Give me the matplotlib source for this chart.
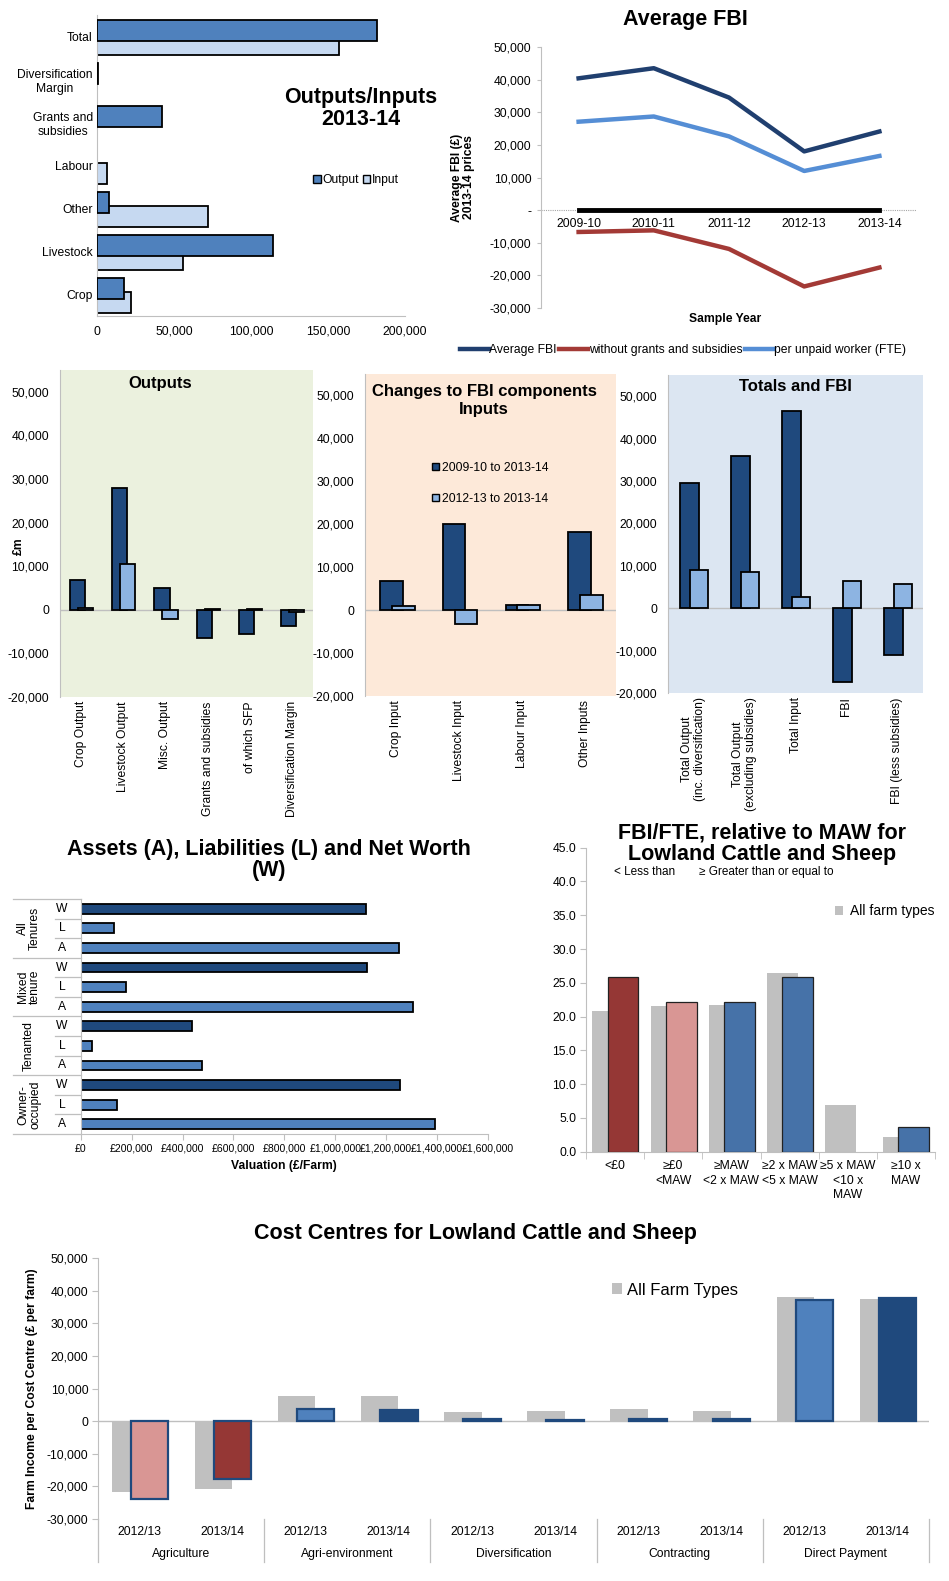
import matplotlib
matplotlib.use('Agg')
import matplotlib.pyplot as plt
from matplotlib.patches import Patch
from matplotlib.transforms import blended_transform_factory
import matplotlib.ticker as mticker
import numpy as np

plt.rcParams['font.family'] = ['Liberation Sans', 'DejaVu Sans']

# ---------------- data ----------------
# Outputs / Inputs 2013-14
oi_categories = ['Crop', 'Livestock', 'Other', 'Labour', 'Grants and\nsubsidies',
                 'Diversification\nMargin', 'Total']
oi_output = [17500, 114300, 7800, 0, 42200, 500, 181800]
oi_input = [22000, 56000, 72000, 6500, 0, 0, 157000]

# Average FBI
fbi_years = ['2009-10', '2010-11', '2011-12', '2012-13', '2013-14']
fbi_average = [40400, 43500, 34500, 18000, 24100]
fbi_no_grants = [-6700, -6200, -11900, -23400, -17600]
fbi_per_worker = [27100, 28700, 22600, 12000, 16600]
fbi_zero = [0, 0, 0, 0, 0]

# Changes to FBI components
change_series = ['2009-10 to 2013-14', '2012-13 to 2013-14']
out_categories = ['Crop Output', 'Livestock Output', 'Misc. Output',
                  'Grants and subsidies', 'of which SFP', 'Diversification Margin']
out_change_0910 = [6900, 28000, 4900, -6400, -5600, -3700]
out_change_1213 = [400, 10500, -2100, 200, 100, -400]
in_categories = ['Crop Input', 'Livestock Input', 'Labour Input', 'Other Inputs']
in_change_0910 = [6800, 20100, 1200, 18300]
in_change_1213 = [1000, -3300, 1100, 3500]
tot_categories = ['Total Output\n(inc. diversification)', 'Total Output\n(excluding subsidies)',
                  'Total Input', 'FBI', 'FBI (less subsidies)']
tot_change_0910 = [29500, 35800, 46600, -17300, -11000]
tot_change_1213 = [8900, 8500, 2700, 6300, 5700]

# Assets, liabilities, net worth
tenure_groups = ['All\nTenures', 'Mixed\ntenure', 'Tenanted', 'Owner-\noccupied']
tenure_rows = ['W', 'L', 'A']
net_worth = [1122000, 1126000, 436000, 1253000]
liabilities = [132000, 178000, 43000, 141000]
assets = [1249000, 1306000, 475000, 1391000]

# FBI/FTE relative to MAW
maw_categories = ['<£0', '≥£0\n<MAW', '≥MAW\n<2 x MAW', '≥2 x MAW\n<5 x MAW',
                  '≥5 x MAW\n<10 x\nMAW', '≥10 x\nMAW']
maw_all_farms = [20.8, 21.5, 21.7, 26.4, 6.9, 2.2]
maw_lowland = [25.9, 22.2, 22.2, 25.9, 0.0, 3.7]

# Cost centres
cc_groups = ['Agriculture', 'Agri-environment', 'Diversification', 'Contracting', 'Direct Payment']
cc_years = ['2012/13', '2013/14']
cc_all_farms = [-21700, -20900, 7800, 7800, 2700, 3100, 3700, 3100, 38000, 37400]
cc_lowland = [-24000, -17600, 3700, 3300, 700, 300, 700, 700, 37200, 37900]

# ---------------- styles ----------------
W, H = 949, 1581
fig = plt.figure(figsize=(W / 100, H / 100), dpi=100)
fig.patch.set_facecolor('white')

GRAY = '#BFBFBF'
DARK = '#1F497D'
MID = '#4F81BD'
LIGHT_IN = '#C6D9F1'
LIGHT2 = '#8DB4E2'
RED = '#953735'
PINK = '#D99694'
ALLGRAY = '#C0C0C0'
BLUE5 = '#4672A8'
TICK = 8.7
BIG = 15.5
MIDT = 12


def box(x0, y0, x1, y1):
    return [x0 / W, 1 - y1 / H, (x1 - x0) / W, (y1 - y0) / H]


def fx(px):
    return px / W


def fy(py):
    return 1 - py / H


comma = mticker.FuncFormatter(lambda v, p: f'{v:,.0f}')


def clean(ax, left=True, bottom=False):
    for s in ['top', 'right']:
        ax.spines[s].set_visible(False)
    ax.spines['left'].set_visible(left)
    ax.spines['bottom'].set_visible(bottom)
    ax.spines['left'].set_color(GRAY)
    ax.spines['bottom'].set_color(GRAY)


# ---------------- Panel 1: Outputs/Inputs ----------------
ax1 = fig.add_axes(box(97, 15, 405, 316))
y = np.arange(len(oi_categories))
ax1.barh(y - 0.19, oi_input, height=0.49, color=LIGHT_IN, edgecolor='black',
         linewidth=[1.3 if v else 0 for v in oi_input], zorder=2)
ax1.barh(y + 0.15, oi_output, height=0.49, color=MID, edgecolor='black',
         linewidth=[1.3 if v else 0 for v in oi_output], zorder=3)
ax1.set_xlim(0, 200000)
ax1.set_ylim(-0.5, 6.5)
ax1.set_yticks(y)
ax1.set_yticklabels(oi_categories, fontsize=TICK)
for t in ax1.get_yticklabels():
    t.set_multialignment('center')
ax1.xaxis.set_major_formatter(comma)
ax1.set_xticks(range(0, 200001, 50000))
ax1.tick_params(axis='x', labelsize=TICK, length=0, pad=7)
ax1.tick_params(axis='y', length=0, pad=3)
clean(ax1, left=True, bottom=True)
fig.text(fx(361), fy(108.5), 'Outputs/Inputs\n2013-14', ha='center', va='center',
         fontsize=BIG, fontweight='bold', linespacing=1.05)
fig.legend(handles=[Patch(facecolor=MID, edgecolor='black'), Patch(facecolor=LIGHT_IN, edgecolor='black')],
           labels=['Output', 'Input'], loc='center', bbox_to_anchor=(fx(356), fy(180)),
           ncol=2, frameon=False, fontsize=TICK, handlelength=0.6, handleheight=0.6,
           handletextpad=0.15, columnspacing=0.3)

# ---------------- Panel 2: Average FBI ----------------
ax2 = fig.add_axes(box(541, 47, 917, 308))
xx = np.arange(len(fbi_years))
ax2.axhline(0, color='#A6A6A6', lw=0.8, ls=(0, (1, 1)), zorder=1)
ax2.plot(xx, fbi_zero, color='black', lw=3.5, zorder=2)
h1, = ax2.plot(xx, fbi_average, color='#203F6F', lw=3.2, zorder=3)
h2, = ax2.plot(xx, fbi_no_grants, color='#A33A36', lw=3.2, zorder=3)
h3, = ax2.plot(xx, fbi_per_worker, color='#558ED5', lw=3.2, zorder=3)
ax2.set_xlim(-0.5, 4.5)
ax2.set_ylim(-30000, 50000)
ax2.set_yticks(range(-30000, 50001, 10000))
ax2.yaxis.set_major_formatter(mticker.FuncFormatter(lambda v, p: '-' if v == 0 else f'{v:,.0f}'))
ax2.tick_params(axis='y', labelsize=TICK, length=3, color=GRAY, pad=4)
ax2.set_xticks([])
for i, lab in enumerate(fbi_years):
    ax2.text(i, -2500, lab, ha='center', va='top', fontsize=TICK)
clean(ax2, left=True, bottom=False)
ax2.set_ylabel('Average FBI (£)\n2013-14 prices', fontsize=TICK, fontweight='bold', linespacing=1.0)
ax2.yaxis.set_label_coords(-0.176, 0.5)
ax2.set_xlabel('Sample Year', fontsize=TICK, fontweight='bold')
ax2.xaxis.set_label_coords(0.49, -0.02)
fig.text(fx(685), fy(20), 'Average FBI', ha='center', va='center', fontsize=BIG, fontweight='bold')
fig.legend(handles=[h1, h2, h3], labels=['Average FBI', 'without grants and subsidies', 'per unpaid worker (FTE)'],
           loc='center', bbox_to_anchor=(fx(683), fy(350)), ncol=3, frameon=False, fontsize=TICK,
           handlelength=2.4, handletextpad=0.05, columnspacing=0.2)


# ---------------- Panel 3: Changes to FBI components ----------------
def change_panel(bx, cats, s1, s2, bg, title, tx, ty, ls=1.1):
    ax = fig.add_axes(box(*bx))
    ax.set_facecolor(bg)
    xs = np.arange(len(cats))
    ax.bar(xs - 0.08, s1, width=0.36, color=DARK, edgecolor='black', linewidth=1.3, zorder=2)
    ax.bar(xs + 0.11, s2, width=0.36, color=LIGHT2, edgecolor='black', linewidth=1.3, zorder=3)
    ax.axhline(0, color=GRAY, lw=1, zorder=1)
    ax.set_ylim(-20000, 55000)
    ax.set_xlim(-0.5, len(cats) - 0.5)
    ax.set_yticks(range(-20000, 50001, 10000))
    ax.yaxis.set_major_formatter(comma)
    ax.set_xticks(xs)
    ax.set_xticklabels(cats, rotation=90, fontsize=TICK, va='top', ha='center')
    for t in ax.get_xticklabels():
        t.set_multialignment('center')
    ax.tick_params(axis='y', labelsize=TICK, length=0, pad=8)
    ax.tick_params(axis='x', length=0, pad=3)
    clean(ax, left=True, bottom=False)
    ax.text(tx, ty, title, transform=ax.transAxes, ha='center', va='center', fontsize=MIDT,
            fontweight='bold', linespacing=ls)
    return ax


ax3a = change_panel((60, 370, 313, 697), out_categories, out_change_0910, out_change_1213, '#EBF1DE',
                    'Outputs', 0.395, 0.958)
ax3a.set_ylabel('£m', fontsize=TICK, fontweight='bold')
ax3a.yaxis.set_label_coords(-0.14, 0.46)

ax3b = change_panel((365, 374, 616, 696), in_categories, in_change_0910, in_change_1213, '#FDE9D9',
                    'Changes to FBI components\nInputs', 0.474, 0.918, ls=1.3)
ax3b.legend(handles=[Patch(facecolor=DARK, edgecolor='black'), Patch(facecolor=LIGHT2, edgecolor='black')],
            labels=change_series, loc='upper left', bbox_to_anchor=(fx(421), fy(451)),
            bbox_transform=fig.transFigure, frameon=False, fontsize=TICK, handlelength=0.6,
            handleheight=0.6, handletextpad=0.2, labelspacing=1.55)

ax3c = change_panel((668, 375, 923, 693), tot_categories, tot_change_0910, tot_change_1213, '#DCE6F2',
                    'Totals and FBI', 0.498, 0.965)

# ---------------- Panel 4: Assets, Liabilities, Net worth ----------------
AX4_X0, AX4_X1 = 80.7, 488
ax4 = fig.add_axes(box(AX4_X0, 899, AX4_X1, 1134))
vals, cols = [], []
for g in range(len(tenure_groups)):
    vals += [net_worth[g], liabilities[g], assets[g]]
    cols += [DARK, MID, MID]
ypos = np.arange(len(vals))[::-1]
ax4.barh(ypos, vals, height=0.5, color=cols, edgecolor='black', linewidth=1.3, zorder=2)
ax4.set_ylim(-0.5, len(vals) - 0.5)
ax4.set_xlim(0, 1600000)
ax4.set_xticks(range(0, 1600001, 200000))
ax4.xaxis.set_major_formatter(mticker.FuncFormatter(lambda v, p: f'£{v:,.0f}'))
ax4.tick_params(axis='x', labelsize=7.6, length=4, color=GRAY, pad=3)
ax4.set_yticks([])
clean(ax4, left=True, bottom=True)
trans4 = blended_transform_factory(ax4.transAxes, ax4.transData)
ax_w4 = AX4_X1 - AX4_X0
for i, yv in enumerate(ypos):
    ax4.text((62 - AX4_X0) / ax_w4, yv, tenure_rows[i % 3], transform=trans4,
             ha='center', va='center', fontsize=TICK)
for g, name in enumerate(tenure_groups):
    yc = ypos[3 * g + 1]
    ax4.text((29 - AX4_X0) / ax_w4, yc, name, transform=trans4, rotation=90,
             ha='center', va='center', fontsize=TICK, multialignment='center', linespacing=1.0)
for k in range(len(vals) + 1):
    yb = len(vals) - 0.5 - k
    x0 = (13 - AX4_X0) / ax_w4 if k % 3 == 0 else (55 - AX4_X0) / ax_w4
    ax4.plot([x0, 0], [yb, yb], transform=trans4, color=GRAY, lw=0.9, clip_on=False)
ax4.set_xlabel('Valuation (£/Farm)', fontsize=TICK, fontweight='bold')
ax4.xaxis.set_label_coords(0.5, -0.11)
fig.text(fx(269), fy(860), 'Assets (A), Liabilities (L) and Net Worth\n(W)', ha='center', va='center',
         fontsize=BIG, fontweight='bold', linespacing=1.05)

# ---------------- Panel 5: FBI/FTE relative to MAW ----------------
ax5 = fig.add_axes(box(586, 847.7, 935, 1151.7))
xs5 = np.arange(len(maw_categories))
maw_colors = [RED, PINK, BLUE5, BLUE5, BLUE5, BLUE5]
ax5.bar(xs5 - 0.125, maw_all_farms, width=0.53, color=ALLGRAY, zorder=2)
ax5.bar(xs5 + 0.135, maw_lowland, width=0.53, color=maw_colors, edgecolor='#222222',
        linewidth=[0.9 if v > 0 else 0 for v in maw_lowland], zorder=3)
ax5.set_xlim(-0.5, len(maw_categories) - 0.5)
ax5.set_ylim(0, 45)
ax5.set_yticks(np.arange(0, 45.1, 5))
ax5.yaxis.set_major_formatter(mticker.FormatStrFormatter('%.1f'))
ax5.tick_params(axis='y', labelsize=TICK, length=4, color=GRAY, pad=3)
ax5.set_xticks(xs5)
ax5.set_xticklabels(maw_categories, fontsize=TICK, linespacing=1.3)
ax5.set_xticks(np.arange(-0.5, len(maw_categories), 1.0), minor=True)
ax5.tick_params(axis='x', which='major', length=0, pad=6)
ax5.tick_params(axis='x', which='minor', length=5, color=GRAY)
clean(ax5, left=True, bottom=True)
fig.text(fx(762), fy(844), 'FBI/FTE, relative to MAW for\nLowland Cattle and Sheep', ha='center',
         va='center', fontsize=BIG, fontweight='bold', linespacing=1.05)
fig.text(fx(614), fy(872), '< Less than', ha='left', va='center', fontsize=8.5)
fig.text(fx(699), fy(872), '≥ Greater than or equal to', ha='left', va='center', fontsize=8.5)
fig.legend(handles=[Patch(facecolor=ALLGRAY)], labels=['All farm types'], loc='center left',
           bbox_to_anchor=(fx(822), fy(911)), frameon=False, fontsize=10, handlelength=0.6,
           handleheight=0.6, handletextpad=0.5)

# ---------------- Panel 6: Cost centres ----------------
ax6 = fig.add_axes(box(98, 1258.3, 929, 1519))
xs6 = np.arange(len(cc_all_farms))
cc_colors = [PINK, RED, MID, DARK, MID, DARK, MID, DARK, MID, DARK]
ax6.bar(xs6 - 0.11, cc_all_farms, width=0.45, color=ALLGRAY, zorder=2)
ax6.bar(xs6 + 0.12, cc_lowland, width=0.45, color=cc_colors, edgecolor=DARK, linewidth=1.6, zorder=3)
ax6.axhline(0, color=GRAY, lw=1, zorder=1)
ax6.set_xlim(-0.5, len(cc_all_farms) - 0.5)
ax6.set_ylim(-30000, 50000)
ax6.set_yticks(range(-30000, 50001, 10000))
ax6.yaxis.set_major_formatter(comma)
ax6.tick_params(axis='y', labelsize=TICK, length=4, color=GRAY, pad=3)
ax6.set_xticks([])
clean(ax6, left=True, bottom=False)
trans6 = blended_transform_factory(ax6.transData, ax6.transAxes)
ax6_h = 1519 - 1258.3
for i in xs6:
    ax6.text(i, (1519 - 1532) / ax6_h, cc_years[i % 2], transform=trans6, ha='center', va='center',
             fontsize=TICK)
for g, name in enumerate(cc_groups):
    ax6.text(2 * g + 0.5, (1519 - 1554) / ax6_h, name, transform=trans6, ha='center', va='center',
             fontsize=TICK)
ybot = (1519 - 1562) / ax6_h
for xb in np.arange(-0.5, len(cc_all_farms), 2.0):
    ax6.plot([xb, xb], [0, ybot], transform=trans6, color=GRAY, lw=0.9, clip_on=False)
ax6.set_ylabel('Farm Income per Cost Centre (£ per farm)', fontsize=TICK, fontweight='bold')
ax6.yaxis.set_label_coords((38 - 98) / 831, 0.5)
fig.text(fx(475), fy(1233), 'Cost Centres for Lowland Cattle and Sheep', ha='center', va='center',
         fontsize=BIG, fontweight='bold')
fig.legend(handles=[Patch(facecolor=ALLGRAY)], labels=['All Farm Types'], loc='center left',
           bbox_to_anchor=(fx(597), fy(1290)), frameon=False, fontsize=12, handlelength=0.6,
           handleheight=0.6, handletextpad=0.3)

fig.savefig('out.png', dpi=100, facecolor='white')
